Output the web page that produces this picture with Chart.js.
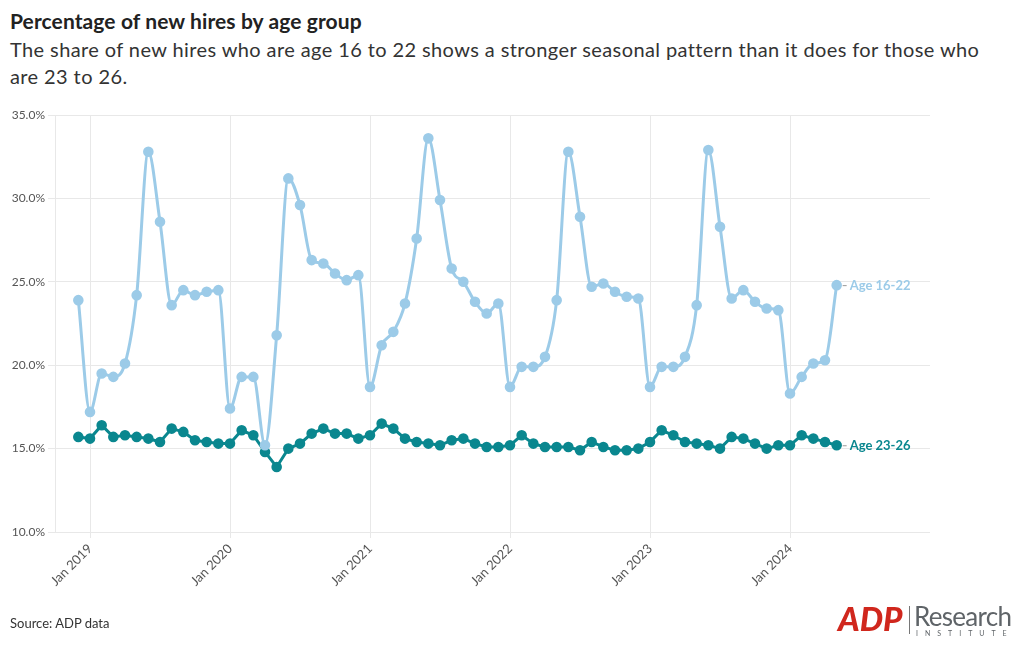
<!DOCTYPE html>
<html lang="en">
<head>
    <meta charset="utf-8">
    <title>Percentage of new hires by age group</title>
    <script src="https://cdn.jsdelivr.net/npm/chart.js"></script>
    <style>
        body { margin: 0; width: 1013px; height: 645px; background: #fff; font-family: Lato, "Noto Sans", sans-serif; overflow: hidden; }
        .title { position: absolute; left: 10px; top: 8px; font-size: 21px; font-weight: 700; color: #222; letter-spacing: 0.1px; }
        .subtitle { position: absolute; left: 10px; top: 36px; width: 980px; font-size: 20px; line-height: 27px; color: #333; letter-spacing: 0.4px; }
        .source { position: absolute; left: 10px; top: 615px; font-size: 13px; color: #333; }
        #chart { position: absolute; left: 0; top: 0; }
        .logo { position: absolute; left: 838px; top: 604px; height: 32px; }
        .adp { position: absolute; left: 0; top: -6px; font-size: 33px; font-weight: 900; font-style: italic; color: #d0271d; letter-spacing: 0px; }
        .sep { position: absolute; left: 71px; top: 2px; width: 1px; height: 28px; background: #777; }
        .research { position: absolute; left: 76px; top: -4px; font-size: 26px; color: #5f6468; letter-spacing: -0.7px; }
        .institute { position: absolute; left: 78px; top: 25px; font-size: 7px; color: #5f6468; letter-spacing: 7px; }
    </style>
</head>
<body>
    <div class="title">Percentage of new hires by age group</div>
    <div class="subtitle">The share of new hires who are age 16 to 22 shows a stronger seasonal pattern than it does for those who are 23 to 26.</div>
    <canvas id="chart" width="1013" height="645"></canvas>
    <div class="source">Source: ADP data</div>
    <div class="logo">
        <span class="adp">ADP</span>
        <div class="sep"></div>
        <span class="research">Research</span>
        <span class="institute">INSTITUTE</span>
    </div>
    <script>
        // months counted from Jan 2019 (= 0); data runs Dec 2018 .. May 2024
        const firstMonth = -1;
        const age16to22 = [
            23.9,
            17.2, 19.5, 19.3, 20.1, 24.2, 32.8, 28.6, 23.6, 24.5, 24.2, 24.4, 24.5,
            17.4, 19.3, 19.3, 15.2, 21.8, 31.2, 29.6, 26.3, 26.1, 25.5, 25.1, 25.4,
            18.7, 21.2, 22.0, 23.7, 27.6, 33.6, 29.9, 25.8, 25.0, 23.8, 23.1, 23.7,
            18.7, 19.9, 19.9, 20.5, 23.9, 32.8, 28.9, 24.7, 24.9, 24.4, 24.1, 24.0,
            18.7, 19.9, 19.9, 20.5, 23.6, 32.9, 28.3, 24.0, 24.5, 23.8, 23.4, 23.3,
            18.3, 19.3, 20.1, 20.3, 24.8
        ];
        const age23to26 = [
            15.7,
            15.6, 16.4, 15.7, 15.8, 15.7, 15.6, 15.4, 16.2, 16.0, 15.5, 15.4, 15.3,
            15.3, 16.1, 15.8, 14.8, 13.9, 15.0, 15.3, 15.9, 16.2, 15.9, 15.9, 15.6,
            15.8, 16.5, 16.2, 15.6, 15.4, 15.3, 15.2, 15.5, 15.6, 15.3, 15.1, 15.1,
            15.2, 15.8, 15.3, 15.1, 15.1, 15.1, 14.9, 15.4, 15.1, 14.9, 14.9, 15.0,
            15.4, 16.1, 15.8, 15.4, 15.3, 15.2, 15.0, 15.7, 15.6, 15.3, 15.0, 15.2,
            15.2, 15.8, 15.6, 15.4, 15.2
        ];
        const yearTicks = [0, 12, 24, 36, 48, 60];
        const yearLabels = ['Jan 2019', 'Jan 2020', 'Jan 2021', 'Jan 2022', 'Jan 2023', 'Jan 2024'];
        const seriesNames = ['Age 16-22', 'Age 23-26'];

        const lightBlue = '#9ccbe8';
        const teal = '#0a878f';

        const toPoints = arr => arr.map((v, i) => ({ x: firstMonth + i, y: v }));

        // end-of-line labels
        const endLabels = {
            id: 'endLabels',
            afterDatasetsDraw(chart) {
                const ctx = chart.ctx;
                ctx.save();
                ctx.textBaseline = 'middle';
                chart.data.datasets.forEach((ds, i) => {
                    const meta = chart.getDatasetMeta(i);
                    const last = meta.data[meta.data.length - 1];
                    ctx.strokeStyle = '#999';
                    ctx.lineWidth = 1;
                    ctx.beginPath();
                    ctx.moveTo(last.x + 6, last.y + 0.5);
                    ctx.lineTo(last.x + 10, last.y + 0.5);
                    ctx.stroke();
                    ctx.fillStyle = ds.borderColor;
                    ctx.font = '700 13px Lato, "Noto Sans", sans-serif';
                    ctx.fillText(ds.label, last.x + 13, last.y + 1);
                });
                ctx.restore();
            }
        };

        new Chart(document.getElementById('chart'), {
            type: 'line',
            data: {
                datasets: [
                    {
                        label: seriesNames[0],
                        data: toPoints(age16to22),
                        borderColor: lightBlue,
                        backgroundColor: lightBlue,
                        borderWidth: 3,
                        pointRadius: 3.8,
                        pointHoverRadius: 3.8,
                        cubicInterpolationMode: 'monotone'
                    },
                    {
                        label: seriesNames[1],
                        data: toPoints(age23to26),
                        borderColor: teal,
                        backgroundColor: teal,
                        borderWidth: 3,
                        pointRadius: 3.8,
                        pointHoverRadius: 3.8,
                        tension: 0
                    }
                ]
            },
            options: {
                responsive: false,
                animation: false,
                layout: { padding: { left: 0, top: 115, right: 83, bottom: 33 } },
                plugins: {
                    legend: { display: false },
                    tooltip: { enabled: false }
                },
                scales: {
                    x: {
                        type: 'linear',
                        min: -3,
                        max: 72,
                        afterBuildTicks: scale => { scale.ticks = yearTicks.map(v => ({ value: v })); },
                        afterFit: scale => { scale.height = 80; },
                        ticks: {
                            autoSkip: false,
                            minRotation: 45,
                            maxRotation: 45,
                            color: '#555',
                            font: { family: 'Lato, "Noto Sans", sans-serif', size: 13 },
                            callback: v => yearLabels[yearTicks.indexOf(v)]
                        },
                        grid: { color: '#e8e8e8', tickLength: 6, drawOnChartArea: true },
                        border: { display: false }
                    },
                    y: {
                        min: 10,
                        max: 35,
                        afterFit: scale => { scale.width = 55; },
                        ticks: {
                            stepSize: 5,
                            padding: 3,
                            color: '#555',
                            font: { family: 'Lato, "Noto Sans", sans-serif', size: 12 },
                            callback: v => v.toFixed(1) + '%'
                        },
                        grid: { color: '#e8e8e8', tickLength: 7 },
                        border: { display: true, color: '#e8e8e8' }
                    }
                }
            },
            plugins: [endLabels]
        });
    </script>
</body>
</html>
